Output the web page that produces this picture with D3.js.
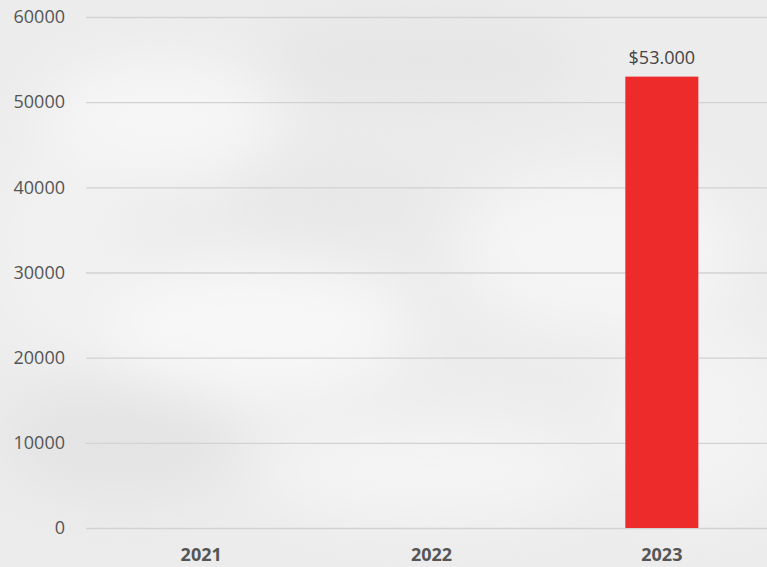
<!DOCTYPE html>
<html>
<head>
<meta charset="utf-8">
<script src="https://cdn.jsdelivr.net/npm/d3@7"></script>
<style>
  html, body { margin: 0; padding: 0; background: #eeeeee; }
  svg { display: block; }
</style>
</head>
<body>
<svg id="chart" width="767" height="567"></svg>
<script>
// chart data
// ----------
var years = ["2021", "2022", "2023"];
var amounts = [0, 0, 53000];
var amountLabels = ["", "", "$53.000"];
var yTicks = [0, 10000, 20000, 30000, 40000, 50000, 60000];

var svg = d3.select("#chart");
var W = 767, H = 567;

// cloudy background
// -----------------
var defs = svg.append("defs");
defs.append("filter").attr("id", "blur")
  .attr("x", "-50%").attr("y", "-50%").attr("width", "200%").attr("height", "200%")
  .append("feGaussianBlur").attr("stdDeviation", 28);

svg.append("rect").attr("width", W).attr("height", H).attr("fill", "#ececec");

var clouds = svg.append("g").attr("filter", "url(#blur)");
var blobs = [
  [160, 120, 120, 60, "#f6f6f6"], [420, 60, 160, 50, "#e6e6e6"], [600, 250, 140, 80, "#f5f5f5"],
  [250, 330, 160, 70, "#f7f7f7"], [120, 440, 120, 60, "#e4e4e4"], [430, 470, 170, 50, "#f4f4f4"],
  [700, 420, 90, 100, "#f3f3f3"], [330, 200, 110, 50, "#e8e8e8"], [60, 250, 70, 110, "#f1f1f1"]
];
blobs.forEach(function(b){
  clouds.append("ellipse").attr("cx", b[0]).attr("cy", b[1]).attr("rx", b[2]).attr("ry", b[3]).attr("fill", b[4]);
});

// scales
// ------
var x = d3.scaleBand().domain(years).range([86, 777]).paddingInner(0.683).paddingOuter(0.3415);
var y = d3.scaleLinear().domain([0, 60000]).range([528, 17]);

// gridlines + y labels
// --------------------
var yAxis = svg.append("g")
  .attr("transform", "translate(86,0)")
  .call(d3.axisLeft(y).tickValues(yTicks).tickSize(-(W - 86)).tickPadding(21).tickFormat(d3.format("d")));
yAxis.select(".domain").remove();
yAxis.selectAll(".tick line").attr("stroke", "#d2d2d2").attr("stroke-width", 1.3);
yAxis.selectAll(".tick text")
  .attr("fill", "#555555")
  .attr("style", "font-family:'Open Sans';font-size:18px;");

// bars
// ----
svg.append("g").selectAll("rect")
  .data(years)
  .join("rect")
  .attr("x", function(d){ return x(d); })
  .attr("y", function(d, i){ return y(amounts[i]); })
  .attr("width", x.bandwidth())
  .attr("height", function(d, i){ return y(0) - y(amounts[i]); })
  .attr("fill", "#ee2b2b");

// value labels
// ------------
svg.append("g").selectAll("text")
  .data(years)
  .join("text")
  .attr("x", function(d){ return x(d) + x.bandwidth() / 2; })
  .attr("y", function(d, i){ return y(amounts[i]) - 13; })
  .attr("text-anchor", "middle")
  .attr("style", "font-family:'Open Sans';font-size:18px;fill:#444444;")
  .text(function(d, i){ return amountLabels[i]; });

// x labels
// --------
var xAxis = svg.append("g")
  .attr("transform", "translate(0,528)")
  .call(d3.axisBottom(x).tickSize(0).tickPadding(20));
xAxis.select(".domain").remove();
xAxis.selectAll(".tick text")
  .attr("fill", "#555555")
  .attr("style", "font-family:'Open Sans';font-size:18px;font-weight:bold;");
</script>
</body>
</html>
